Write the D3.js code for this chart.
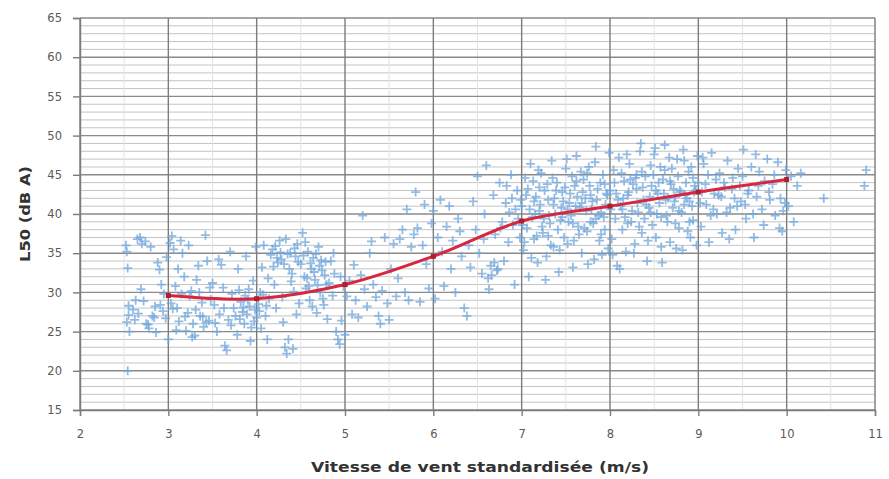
<!DOCTYPE html>
<html>
<head>
<meta charset="utf-8">
<script src="https://cdn.jsdelivr.net/npm/d3@7"></script>
<style>
  body { margin: 0; background: #fff; }
  text { font-family: "DejaVu Sans", sans-serif; }
</style>
</head>
<body>
<script>
// measured points, wind speed (m/s) and L50 (dB A), low winds
var lowWindPoints = [
  [2.52,36.0],[2.53,35.2],[2.54,33.1],[2.55,28.3],[2.55,27.1],[2.53,26.2],[2.56,25.0],[2.54,20.0],
  [2.60,27.8],[2.62,26.5],[2.65,36.8],[2.68,37.0],[2.70,36.2],[2.72,28.9],[2.66,27.3],[2.75,26.0],
  [2.78,25.4],[2.74,36.5],[2.80,35.8],[2.82,27.0],[2.85,28.2],[2.88,33.8],[2.90,32.9],[2.86,24.9],
  [2.92,31.0],[2.95,29.8],[2.97,26.7],[2.98,34.5],[2.63,29.0],[2.69,30.4],[2.77,25.9],[2.84,26.8],
  [2.91,28.4],[2.94,27.6],
  [3.00,24.0],[3.02,36.3],[3.04,37.2],[3.06,35.5],[3.08,30.8],[3.10,28.0],[3.12,26.3],[3.14,36.6],
  [3.16,35.0],[3.18,32.0],[3.20,25.1],[3.22,27.4],[3.24,29.5],[3.26,30.2],[3.28,26.0],[3.30,24.5],
  [3.32,31.6],[3.34,33.4],[3.36,27.0],[3.38,28.7],[3.40,25.6],[3.42,37.3],[3.44,34.0],[3.46,26.4],
  [3.48,29.1],[3.05,27.9],[3.11,33.0],[3.19,26.9],[3.27,24.3],[3.35,30.0],[3.43,26.2],[3.50,31.2],
  [3.52,28.4],[3.55,25.0],[3.58,27.2],[3.60,33.5],[3.62,30.6],[3.64,23.2],[3.66,22.6],[3.68,26.5],
  [3.70,35.2],[3.72,29.8],[3.74,28.0],[3.76,27.0],[3.78,24.6],[3.80,30.3],[3.82,28.8],[3.84,27.5],
  [3.86,26.0],[3.88,34.6],[3.90,29.0],[3.92,28.2],[3.94,25.5],[3.96,31.5],[3.98,27.8],[3.57,34.2],
  [3.63,28.0],[3.71,25.8],[3.79,33.0],[3.87,29.6],[3.93,23.8],[3.99,35.8],
  [4.00,26.8],[4.02,28.5],[4.04,30.0],[4.06,33.2],[4.08,36.0],[4.10,27.0],[4.12,24.0],[4.14,29.2],
  [4.16,34.8],[4.18,35.5],[4.20,31.0],[4.22,28.0],[4.24,33.8],[4.26,36.6],[4.28,34.2],[4.30,26.2],
  [4.32,23.0],[4.34,22.2],[4.36,24.0],[4.38,35.0],[4.40,32.4],[4.42,30.1],[4.44,34.6],[4.46,36.2],
  [4.48,28.6],[4.05,25.4],[4.13,31.8],[4.21,35.9],[4.29,29.4],[4.37,33.0],[4.45,27.2],[4.33,36.8],
  [4.41,22.8],
  [4.50,33.6],[4.52,37.6],[4.54,32.0],[4.56,30.5],[4.58,35.2],[4.60,29.0],[4.62,33.0],[4.64,34.4],
  [4.66,31.6],[4.68,27.4],[4.70,35.8],[4.72,30.0],[4.74,32.8],[4.76,28.4],[4.78,33.9],[4.80,26.6],
  [4.82,31.2],[4.84,34.0],[4.86,29.6],[4.88,32.4],[4.90,25.0],[4.92,24.0],[4.94,23.4],[4.96,26.4],
  [4.98,30.8],[4.55,36.4],[4.63,28.2],[4.71,33.4],[4.79,31.0],[4.87,35.0],[4.95,32.0],[4.59,30.8],
  [4.67,34.9],[4.75,29.2],
  [3.03,28.6],[3.09,25.2],[3.15,29.8],[3.23,36.0],[3.31,27.8],[3.39,26.9],[3.47,30.6],[3.53,26.1],
  [3.81,26.6],[3.85,28.1],[3.89,27.2],[3.91,30.4],[3.97,26.3],[4.03,27.6],[4.07,29.7],[4.11,28.3],
  [4.19,33.3],[4.23,34.4],[4.27,35.1],[4.31,33.6],[4.35,34.9],[4.39,31.4],[4.43,35.6],[4.47,33.9],
  [4.53,34.7],[4.57,31.8],[4.61,33.7],[4.65,32.6],[4.69,30.9],[4.73,34.1],[4.77,32.2]
];

// transition zone
var midWindPoints = [
  [5.00,24.6],[5.02,29.5],[5.05,31.5],[5.08,27.2],[5.10,33.5],[5.12,29.0],[5.15,26.8],[5.18,32.2],
  [5.20,39.8],[5.22,30.4],[5.25,28.2],[5.28,35.0],[5.30,36.5],[5.32,31.0],[5.35,29.4],[5.38,27.0],
  [5.40,26.0],[5.42,30.2],[5.45,37.0],[5.48,28.6],[5.50,26.5],[5.52,33.0],[5.55,36.2],[5.58,29.5],
  [5.60,31.8],[5.62,36.8],[5.65,38.0],[5.68,30.0],[5.70,40.6],[5.72,29.0],[5.75,35.8],[5.78,37.4],
  [5.80,42.8],[5.82,38.2],[5.85,28.8],[5.88,36.0],[5.90,41.2],[5.92,33.6],[5.95,30.5],[5.98,38.8],
  [6.00,40.4],[6.02,29.2],[6.05,37.0],[6.08,41.8],[6.10,35.2],[6.12,30.8],[6.15,38.4],[6.18,41.0],
  [6.20,33.0],[6.22,36.6],[6.25,30.0],[6.28,39.4],[6.30,37.8],[6.32,34.6],[6.35,28.0],[6.38,27.0],
  [6.40,36.0],[6.42,33.2],[6.45,41.6],[6.48,38.0],[6.50,44.8],[6.52,35.0],[6.55,32.4],[6.58,40.0],
  [6.60,46.2],[6.62,31.8],[6.65,33.4],[6.68,42.4],[6.70,37.4],[6.72,32.8],[6.75,44.0],[6.78,39.0],
  [6.80,34.0],[6.82,41.4],[6.85,36.4],[6.88,45.0],[6.90,38.6],[6.92,31.0],[6.95,43.0],[6.98,37.0],
  [6.57,36.8],[6.63,30.4],[6.73,33.0],[6.83,43.6],[6.93,40.6],
  [6.66,32.2],[6.69,33.8],[6.76,38.2],[6.86,40.2],[6.89,42.0],[6.96,39.4],[6.99,41.8]
];

// high winds
var highWindPoints = [
  [7.00,41.0],[7.02,35.4],[7.04,44.6],[7.06,38.2],[7.08,32.0],[7.10,46.4],[7.12,39.6],[7.14,36.8],
  [7.16,42.2],[7.18,33.8],[7.20,40.4],[7.22,45.2],[7.24,37.6],[7.26,43.0],[7.28,34.6],[7.30,41.8],
  [7.32,38.8],[7.34,46.8],[7.36,35.8],[7.38,40.0],[7.40,44.0],[7.42,32.6],[7.44,39.2],[7.46,42.8],
  [7.48,37.0],[7.50,45.8],[7.52,36.2],[7.54,41.4],[7.56,39.8],[7.58,33.2],[7.60,43.6],[7.62,47.4],
  [7.64,38.4],[7.66,40.8],[7.68,35.0],[7.70,44.4],[7.72,42.0],[7.74,37.8],[7.76,46.0],[7.78,39.0],
  [7.80,41.6],[7.82,34.2],[7.84,48.6],[7.86,43.2],[7.88,36.6],[7.90,40.2],[7.92,45.0],[7.94,38.0],
  [7.96,42.6],[7.98,35.6],
  [7.01,38.6],[7.05,42.4],[7.09,40.6],[7.13,44.2],[7.17,37.2],[7.21,41.2],[7.25,39.4],[7.29,43.8],
  [7.33,36.0],[7.37,42.0],[7.41,38.0],[7.45,40.8],[7.49,43.4],[7.53,39.0],[7.57,44.8],[7.61,41.0],
  [7.65,37.4],[7.69,42.8],[7.73,40.4],[7.77,43.6],[7.81,38.8],[7.85,41.8],[7.89,44.0],[7.93,39.6],
  [7.97,42.4],
  [7.03,36.4],[7.11,34.4],[7.19,45.6],[7.27,31.6],[7.35,44.6],[7.43,35.4],[7.51,47.0],[7.59,36.6],
  [7.67,45.4],[7.75,33.6],[7.83,46.6],[7.91,34.8],[7.99,47.8],[7.15,40.0],[7.31,39.8],[7.47,41.6],
  [7.63,42.2],[7.79,40.6],[7.95,41.2],
  [7.07,43.2],[7.23,38.4],[7.39,43.0],[7.55,42.6],[7.71,38.2],[7.87,39.8],[7.14,41.6],[7.30,37.2],
  [7.46,39.6],[7.62,44.2],[7.78,42.4],[7.94,43.8],[7.20,43.4],[7.36,41.2],[7.52,40.6],[7.68,41.4],
  [7.84,39.4],[7.58,38.8],[7.74,45.2],[7.90,37.4],
  [8.00,43.0],[8.02,36.8],[8.04,45.6],[8.06,39.4],[8.08,33.4],[8.10,47.2],[8.12,41.0],[8.14,38.0],
  [8.16,44.2],[8.18,35.2],[8.20,42.4],[8.22,46.4],[8.24,39.0],[8.26,43.8],[8.28,36.2],[8.30,45.0],
  [8.32,40.2],[8.34,48.0],[8.36,37.6],[8.38,41.8],[8.40,44.8],[8.42,34.0],[8.44,40.8],[8.46,46.2],
  [8.48,38.6],[8.50,47.6],[8.52,37.0],[8.54,42.6],[8.56,41.4],[8.58,35.8],[8.60,44.4],[8.62,48.8],
  [8.64,39.8],[8.66,42.0],[8.68,36.4],[8.70,45.8],[8.72,43.2],[8.74,38.8],[8.76,47.0],[8.78,40.4],
  [8.80,42.8],[8.82,35.4],[8.84,46.8],[8.86,44.0],[8.88,37.8],[8.90,41.6],[8.92,46.0],[8.94,39.2],
  [8.96,43.6],[8.98,36.0],
  [8.01,40.6],[8.05,44.0],[8.09,41.8],[8.13,45.2],[8.17,39.6],[8.21,42.8],[8.25,40.4],[8.29,44.6],
  [8.33,38.4],[8.37,43.4],[8.41,41.2],[8.45,42.2],[8.49,45.0],[8.53,40.0],[8.57,46.0],[8.61,42.6],
  [8.65,39.0],[8.69,43.8],[8.73,41.6],[8.77,44.8],[8.81,40.2],[8.85,42.4],[8.89,45.4],[8.93,41.0],
  [8.97,43.0],
  [8.03,34.8],[8.11,33.0],[8.19,47.6],[8.27,35.0],[8.35,49.0],[8.43,36.6],[8.51,48.4],[8.59,33.8],
  [8.67,47.2],[8.75,35.6],[8.83,48.2],[8.91,37.0],[8.99,47.4],[8.15,42.0],[8.31,41.4],[8.47,43.6],
  [8.63,41.8],[8.79,43.0],[8.95,42.8],
  [8.07,42.6],[8.23,44.4],[8.39,39.4],[8.55,44.0],[8.71,40.8],[8.87,42.0],[8.14,40.6],[8.30,43.2],
  [8.46,40.2],[8.62,45.6],[8.78,38.2],[8.94,44.6],[8.20,38.8],[8.36,45.4],[8.52,43.0],[8.68,44.2],
  [8.84,41.2],[8.58,39.6],[8.74,42.2],[8.90,39.0],
  [9.00,44.0],[9.03,38.4],[9.06,46.4],[9.09,41.2],[9.12,36.4],[9.15,47.8],[9.18,42.6],[9.21,40.0],
  [9.24,45.2],[9.27,37.6],[9.30,43.4],[9.33,46.8],[9.36,40.8],[9.39,44.6],[9.42,38.0],[9.45,45.8],
  [9.48,41.6],[9.51,48.2],[9.54,39.4],[9.57,43.0],[9.60,46.0],[9.63,37.0],[9.66,42.2],[9.69,45.4],
  [9.72,40.6],[9.75,44.2],[9.78,47.0],[9.81,41.8],[9.84,43.8],[9.87,39.8],[9.90,46.6],[9.93,42.0],
  [9.96,40.4],[9.99,45.6],[10.02,41.0],[10.05,44.8],[10.08,39.0],[10.12,43.6],[10.16,45.2],
  [10.42,42.0],[10.88,43.6],[10.90,45.6],
  [9.02,41.4],[9.08,43.8],[9.14,39.8],[9.20,44.4],[9.26,42.2],[9.32,40.2],[9.38,43.2],[9.44,41.0],
  [9.50,44.8],[9.56,42.6],[9.62,40.0],[9.68,43.6],[9.74,38.6],[9.80,42.8],[9.86,45.0],[9.92,38.2],
  [9.98,41.4],[9.05,47.2],[9.35,36.8],[9.65,47.6],[9.95,37.8],
  [9.04,42.8],[9.11,45.0],[9.17,40.6],[9.23,42.4],[9.29,44.0],[9.41,42.0],[9.47,43.6],[9.53,41.2]
];

// fitted curve per integer wind speed
var curveSpeeds = [3, 4, 5, 6, 7, 8, 9, 10];
var curveL50 = [29.6, 29.2, 31.0, 34.6, 39.1, 41.0, 42.8, 44.4];

var xTicks = [2, 3, 4, 5, 6, 7, 8, 9, 10, 11];
var yTicks = [15, 20, 25, 30, 35, 40, 45, 50, 55, 60, 65];

function drawChart() {
    var width = 889;
    var height = 479;
    var margin = {top: 18, right: 14, bottom: 69, left: 80};

    var svg = d3.select("body")
                .append("svg")
                .attr("width", width)
                .attr("height", height);

    var xScale = d3.scaleLinear()
                   .domain([2, 11])
                   .range([margin.left, width - margin.right]);

    var yScale = d3.scaleLinear()
                   .domain([15, 65])
                   .range([height - margin.bottom, margin.top]);

    var grid = svg.append("g").attr("class", "grid");

    // minor horizontal lines every 1 dB
    grid.selectAll("line.minor-h")
        .data(d3.range(16, 65).filter(function(v) { return v % 5 !== 0; }))
        .enter()
        .append("line")
        .attr("class", "minor-h")
        .attr("x1", xScale(2)).attr("x2", xScale(11))
        .attr("y1", function(d) { return yScale(d); })
        .attr("y2", function(d) { return yScale(d); })
        .attr("stroke", "#c4c4c4")
        .attr("stroke-width", 1);

    // faint vertical half steps
    grid.selectAll("line.minor-v")
        .data(d3.range(2.5, 11, 1))
        .enter()
        .append("line")
        .attr("class", "minor-v")
        .attr("y1", yScale(15)).attr("y2", yScale(65))
        .attr("x1", function(d) { return xScale(d); })
        .attr("x2", function(d) { return xScale(d); })
        .attr("stroke", "#e2e2e2")
        .attr("stroke-width", 1);

    grid.selectAll("line.major-h")
        .data(yTicks)
        .enter()
        .append("line")
        .attr("class", "major-h")
        .attr("x1", xScale(2)).attr("x2", xScale(11))
        .attr("y1", function(d) { return yScale(d); })
        .attr("y2", function(d) { return yScale(d); })
        .attr("stroke", "#8a8a8a")
        .attr("stroke-width", 1.4);

    grid.selectAll("line.major-v")
        .data(xTicks)
        .enter()
        .append("line")
        .attr("class", "major-v")
        .attr("y1", yScale(15)).attr("y2", yScale(65))
        .attr("x1", function(d) { return xScale(d); })
        .attr("x2", function(d) { return xScale(d); })
        .attr("stroke", "#7c7c7c")
        .attr("stroke-width", 1.4);

    // axes
    var xAxis = svg.append("g")
                   .attr("class", "x axis")
                   .attr("transform", "translate(0," + yScale(15) + ")")
                   .call(d3.axisBottom(xScale).tickValues(xTicks).tickSize(6).tickPadding(14).tickFormat(d3.format("d")));

    var yAxis = svg.append("g")
                   .attr("class", "y axis")
                   .attr("transform", "translate(" + xScale(2) + ",0)")
                   .call(d3.axisLeft(yScale).tickValues(yTicks).tickSize(7).tickPadding(11).tickFormat(d3.format("d")));

    svg.selectAll(".axis path, .axis line")
       .attr("stroke", "#7c7c7c")
       .attr("stroke-width", 1.4);

    svg.selectAll(".axis text")
       .attr("fill", "#5a5a5a")
       .style("font-size", "11.5px");

    // scatter, drawn as "+" marks
    var allPoints = lowWindPoints.concat(midWindPoints, highWindPoints);
    var plus = "M-4.5,0H4.5M0,-4.5V4.5";

    svg.append("g")
       .attr("class", "points")
       .selectAll("path")
       .data(allPoints)
       .enter()
       .append("path")
       .attr("d", plus)
       .attr("transform", function(d) { return "translate(" + xScale(d[0]) + "," + yScale(d[1]) + ")"; })
       .attr("stroke", "#6ea6dc")
       .attr("stroke-width", 1.8)
       .attr("stroke-opacity", 0.75)
       .attr("fill", "none");

    // smoothed curve
    var curveData = curveSpeeds.map(function(s, i) { return [s, curveL50[i]]; });
    var line = d3.line()
                 .x(function(d) { return xScale(d[0]); })
                 .y(function(d) { return yScale(d[1]); })
                 .curve(d3.curveCatmullRom.alpha(0.5));

    svg.append("path")
       .datum(curveData)
       .attr("d", line)
       .attr("fill", "none")
       .attr("stroke", "#d7263d")
       .attr("stroke-width", 3);

    svg.append("g")
       .selectAll("rect")
       .data(curveData)
       .enter()
       .append("rect")
       .attr("x", function(d) { return xScale(d[0]) - 2.5; })
       .attr("y", function(d) { return yScale(d[1]) - 2.5; })
       .attr("width", 5)
       .attr("height", 5)
       .attr("fill", "#b01c30");

    // axis titles
    svg.append("text")
       .attr("x", 480)
       .attr("y", 472)
       .attr("text-anchor", "middle")
       .attr("font-weight", "bold")
       .attr("fill", "#333")
       .style("font-size", "14px")
       .attr("textLength", 338)
       .attr("lengthAdjust", "spacingAndGlyphs")
       .text("Vitesse de vent standardisée (m/s)");

    svg.append("text")
       .attr("transform", "translate(30," + ((yScale(15) + yScale(65)) / 2) + ") rotate(-90)")
       .attr("text-anchor", "middle")
       .attr("font-weight", "bold")
       .attr("fill", "#333")
       .style("font-size", "14px")
       .attr("textLength", 96)
       .attr("lengthAdjust", "spacingAndGlyphs")
       .text("L50 (dB A)");
}

window.onload = function() {
    drawChart();
};
</script>
</body>
</html>
